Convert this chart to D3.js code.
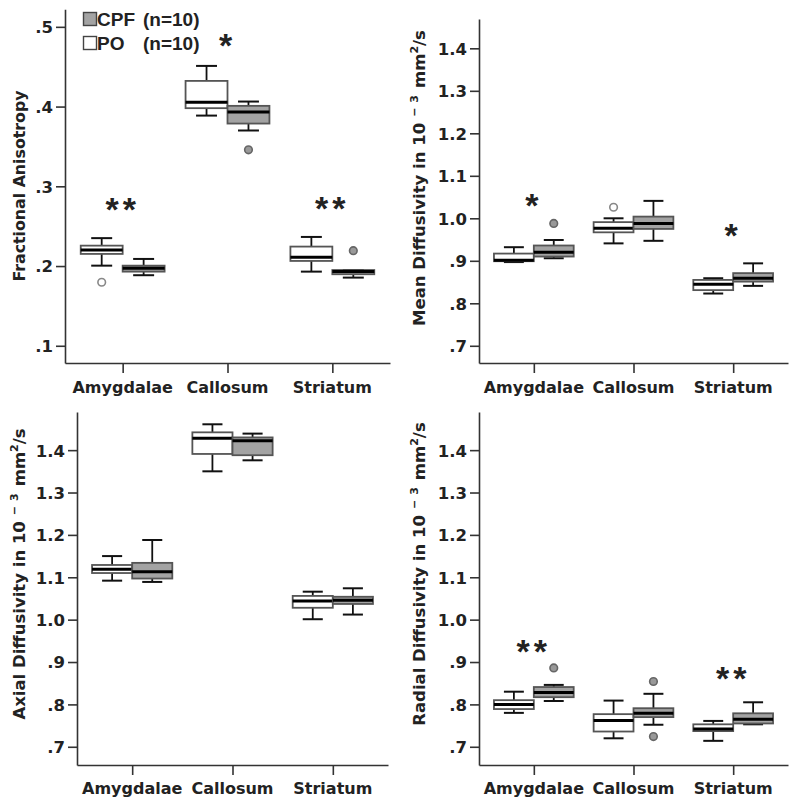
<!DOCTYPE html>
<html><head><meta charset="utf-8">
<script src="https://cdn.jsdelivr.net/npm/d3@7"></script>
<style>
html,body{margin:0;padding:0;background:#fff;}
text{font-family:"DejaVu Sans",sans-serif;font-weight:bold;fill:#222;}
</style></head>
<body>
<svg id="chart" width="800" height="807"></svg>
<script>
// ---------- DATA ----------
const categories = ["Amygdalae", "Callosum", "Striatum"];
const groups = ["PO", "CPF"];
const legendLabels = ["CPF", "PO"];
const legendN = ["(n=10)", "(n=10)"];

// box stats per category: [whiskerLow, q1, median, q3, whiskerHigh]
const faPO  = [[0.2005,0.2152,0.220,0.2256,0.235],[0.3887,0.398,0.4055,0.4322,0.451],[0.193,0.2064,0.211,0.2244,0.2365]];
const faCPF = [[0.1885,0.193,0.1972,0.2005,0.2089],[0.370,0.3787,0.3933,0.4009,0.4063],[0.1855,0.1897,0.193,0.195,0.195]];
const faOutPO  = [[0.1797],[],[]];
const faOutCPF = [[],[0.3457],[0.2193]];
const faStars = ["**","*","**"];
const faStarLevel = [0.278,0.484,0.279];

const mdPO  = [[0.897,0.899,0.901,0.917,0.932],[0.941,0.967,0.9765,0.991,1.000],[0.823,0.831,0.845,0.855,0.859]];
const mdCPF = [[0.906,0.910,0.920,0.936,0.949],[0.947,0.975,0.988,1.004,1.041],[0.841,0.851,0.859,0.871,0.894]];
const mdOutPO  = [[],[1.026],[]];
const mdOutCPF = [[0.988],[],[]];
const mdStars = ["*","","*"];
const mdStarLevel = [1.043,0,0.972];

const adPO  = [[1.092,1.110,1.119,1.129,1.150],[1.350,1.391,1.428,1.442,1.461],[1.001,1.028,1.044,1.056,1.066]];
const adCPF = [[1.089,1.097,1.113,1.134,1.188],[1.376,1.388,1.422,1.430,1.439],[1.012,1.037,1.046,1.054,1.074]];
const adOutPO  = [[],[],[]];
const adOutCPF = [[],[],[]];
const adStars = ["","",""];
const adStarLevel = [0,0,0];

const rdPO  = [[0.780,0.789,0.800,0.810,0.830],[0.720,0.736,0.762,0.777,0.809],[0.714,0.737,0.742,0.753,0.761]];
const rdCPF = [[0.808,0.817,0.828,0.841,0.846],[0.752,0.770,0.779,0.791,0.825],[0.753,0.755,0.765,0.779,0.805]];
const rdOutPO  = [[],[],[]];
const rdOutCPF = [[0.886],[0.854,0.724],[]];
const rdStars = ["**","","**"];
const rdStarLevel = [0.938,0,0.874];

const faTicks = [0.1,0.2,0.3,0.4,0.5];
const diffTicks = [0.7,0.8,0.9,1.0,1.1,1.2,1.3,1.4];

// ---------- LAYOUT ----------
const panels = [
  {po:faPO, cpf:faCPF, outPO:faOutPO, outCPF:faOutCPF, stars:faStars, starLevel:faStarLevel,
   x0:65, x1:390, yTop:9.3, yBot:363, domain:[0.0784,0.522], ticks:faTicks,
   title:["Fractional Anisotropy"], tx:25, ty:186, labelY:393, legend:true},
  {po:mdPO, cpf:mdCPF, outPO:mdOutPO, outCPF:mdOutCPF, stars:mdStars, starLevel:mdStarLevel,
   x0:479, x1:788, yTop:19, yBot:363, domain:[0.6595,1.469], ticks:diffTicks,
   title:"Mean Diffusivity in ", tx:425, ty:178, labelY:393},
  {po:adPO, cpf:adCPF, outPO:adOutPO, outCPF:adOutCPF, stars:adStars, starLevel:adStarLevel,
   x0:77, x1:388, yTop:412, yBot:765, domain:[0.657,1.49], ticks:diffTicks,
   title:"Axial Diffusivity in ", tx:25, ty:574, labelY:794},
  {po:rdPO, cpf:rdCPF, outPO:rdOutPO, outCPF:rdOutCPF, stars:rdStars, starLevel:rdStarLevel,
   x0:479, x1:788, yTop:412, yBot:765, domain:[0.657,1.49], ticks:diffTicks,
   title:"Radial Diffusivity in ", tx:425, ty:574, labelY:794}
];

const svg = d3.select("#chart");
const fmt = v => { const s = d3.format(".1f")(v); return v < 1 ? s.replace(/^0/, "") : s; };
const fill = {PO:"#ffffff", CPF:"#a3a3a3"};
const FONT = '"DejaVu Sans",sans-serif';

panels.forEach(p => {
  const g = svg.append("g");
  const x = d3.scalePoint().domain(categories).range([p.x0, p.x1]).padding(0.55);
  const y = d3.scaleLinear().domain(p.domain).range([p.yBot, p.yTop]);
  const step = x.step();
  const bw = step * 0.4;
  const xg = d3.scaleBand().domain(groups).range([-bw, bw]);

  // y axis
  const ya = d3.axisLeft(y).tickValues(p.ticks).tickFormat(fmt).tickSize(9).tickPadding(3).tickSizeOuter(0);
  const yg = g.append("g").attr("transform", `translate(${p.x0},0)`).call(ya);
  yg.select(".domain").attr("stroke", "#333").attr("stroke-width", 1.6);
  yg.selectAll(".tick line").attr("stroke", "#333").attr("stroke-width", 1.6);
  yg.selectAll(".tick text").attr("font-size", 16.5).attr("fill", "#222").attr("dy", "0.36em")
    .style("font-family", FONT).style("font-weight", "bold");

  // x axis
  const xa = d3.axisBottom(x).tickSize(10).tickPadding(0).tickSizeOuter(0);
  const xgA = g.append("g").attr("transform", `translate(0,${p.yBot})`).call(xa);
  xgA.select(".domain").attr("stroke", "#333").attr("stroke-width", 1.6);
  xgA.selectAll(".tick line").attr("stroke", "#333").attr("stroke-width", 1.6);
  xgA.selectAll(".tick text").remove();
  g.selectAll(".xlab").data(categories).join("text")
    .attr("x", d => x(d)).attr("y", p.labelY).attr("text-anchor", "middle")
    .attr("font-size", 16).text(d => d);

  // y title
  const t = g.append("text").attr("transform", `translate(${p.tx},${p.ty}) rotate(-90)`)
    .attr("text-anchor", "middle");
  if (Array.isArray(p.title)) {
    t.attr("font-size", 15.8).text(p.title[0]);
  } else {
    t.attr("font-size", 16.5);
    t.append("tspan").text(p.title + "10");
    t.append("tspan").attr("dy", -7).attr("font-size", 11).attr("dx", 6).text("\u2212");
    t.append("tspan").attr("font-size", 11).attr("dx", 5).text("3");
    t.append("tspan").attr("dy", 7).attr("dx", 7).text("mm");
    t.append("tspan").attr("dy", -7).attr("font-size", 11).text("2");
    t.append("tspan").attr("dy", 7).text("/s");
  }

  // boxes
  const series = [{grp:"PO", stats:p.po, out:p.outPO}, {grp:"CPF", stats:p.cpf, out:p.outCPF}];
  series.forEach(s => {
    const items = categories.map((c, i) => ({c, v: s.stats[i], out: s.out[i]}));
    const bg = g.selectAll(null).data(items).join("g")
      .attr("transform", d => `translate(${x(d.c) + xg(s.grp)},0)`);
    const w = xg.bandwidth();
    const cap = w * 0.5;
    bg.append("line").attr("x1", w/2).attr("x2", w/2)
      .attr("y1", d => y(d.v[4])).attr("y2", d => y(d.v[0]))
      .attr("stroke", "#111").attr("stroke-width", 1.8);
    [0, 4].forEach(k => {
      bg.append("line").attr("x1", w/2 - cap/2).attr("x2", w/2 + cap/2)
        .attr("y1", d => y(d.v[k])).attr("y2", d => y(d.v[k]))
        .attr("stroke", "#111").attr("stroke-width", 2);
    });
    bg.append("rect").attr("x", 0).attr("width", w)
      .attr("y", d => y(d.v[3])).attr("height", d => Math.max(1, y(d.v[1]) - y(d.v[3])))
      .attr("fill", fill[s.grp]).attr("stroke", "#555").attr("stroke-width", 1.8);
    bg.append("line").attr("x1", 0).attr("x2", w)
      .attr("y1", d => y(d.v[2])).attr("y2", d => y(d.v[2]))
      .attr("stroke", "#000").attr("stroke-width", 3);
    bg.selectAll("circle").data(d => d.out).join("circle")
      .attr("cx", w/2).attr("cy", d => y(d)).attr("r", 3.8)
      .attr("fill", s.grp === "CPF" ? "#999" : "#fff")
      .attr("stroke", s.grp === "CPF" ? "#666" : "#888").attr("stroke-width", 1.6);
  });

  // significance stars
  g.selectAll(".star").data(categories.map((c, i) => ({c, s: p.stars[i], v: p.starLevel[i]})).filter(d => d.s))
    .join("text").attr("x", d => x(d.c)).attr("y", d => y(d.v) + 17)
    .attr("text-anchor", "middle").attr("font-size", 34).attr("fill", "#000")
    .style("font-family", '"Liberation Sans",Arial,sans-serif')
    .attr("letter-spacing", 4).text(d => d.s);

  // legend
  if (p.legend) {
    const lg = g.append("g");
    legendLabels.forEach((lab, i) => {
      const yy = 19 + i * 24;
      lg.append("rect").attr("x", 83.5).attr("y", yy - 6.5).attr("width", 13).attr("height", 13)
        .attr("fill", lab === "CPF" ? "#a3a3a3" : "#fff").attr("stroke", "#444").attr("stroke-width", 1.4);
      lg.append("text").attr("x", 97).attr("y", yy + 7).attr("font-size", 19)
        .style("font-family", '"Liberation Sans",Arial,sans-serif').text(lab);
      lg.append("text").attr("x", 143).attr("y", yy + 7).attr("font-size", 19)
        .style("font-family", '"Liberation Sans",Arial,sans-serif').text(legendN[i]);
    });
  }
});
</script>
</body></html>
